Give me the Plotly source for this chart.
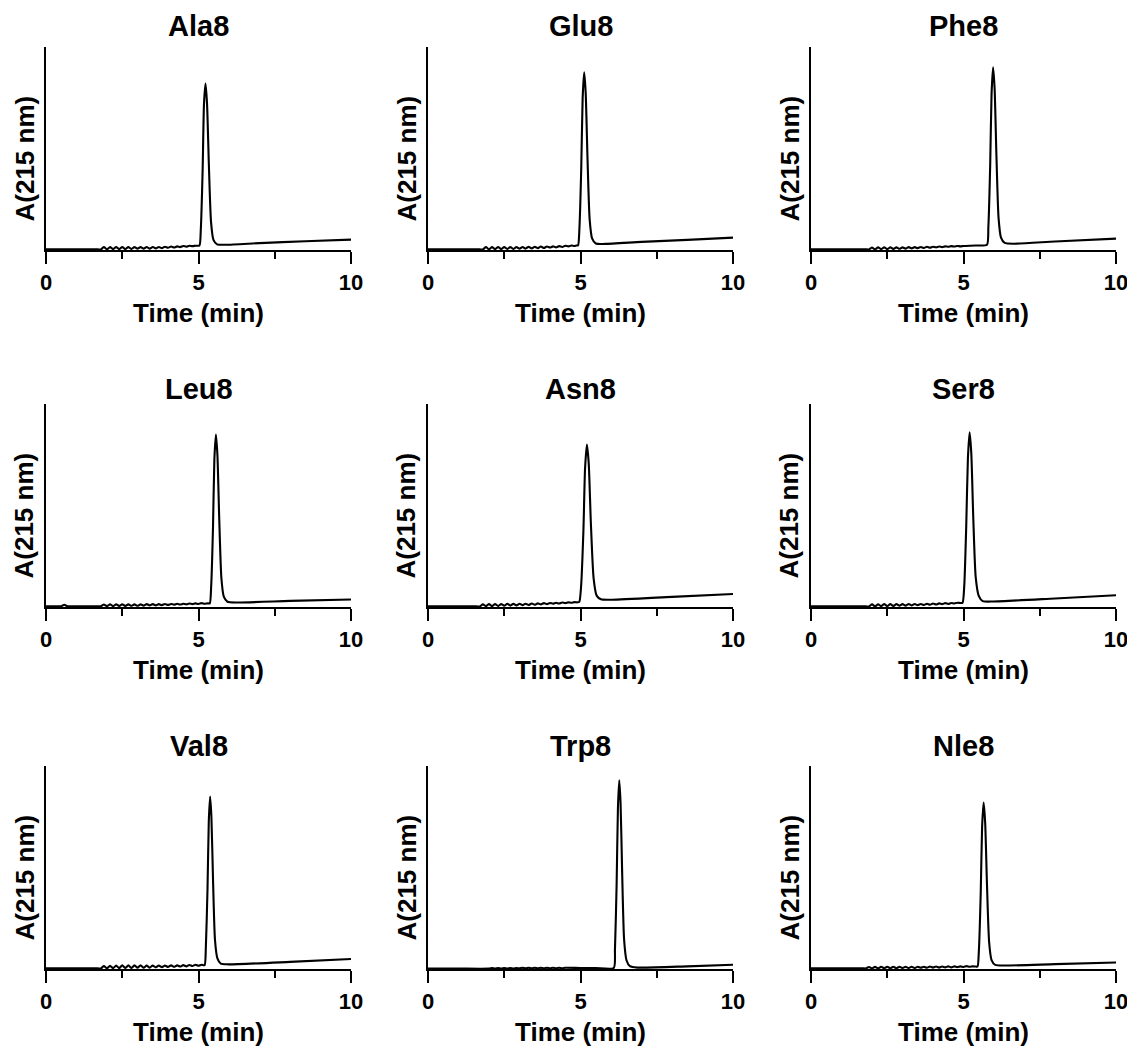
import plotly.graph_objects as go

# ---------------- data (time in min, absorbance in arbitrary units, axis top = 1) ----------------
PANEL_NAMES = ["Ala8", "Glu8", "Phe8", "Leu8", "Asn8", "Ser8", "Val8", "Trp8", "Nle8"]

ALA8 = [(0, 0.003), (1.0, 0.003), (1.7, 0.003),
        (1.8, 0.003), (1.9, 0.014), (2.0, 0.003), (2.1, 0.015), (2.2, 0.004), (2.3, 0.015), (2.4, 0.004),
        (2.5, 0.015), (2.6, 0.004), (2.7, 0.015), (2.8, 0.005), (2.9, 0.015), (3.0, 0.006), (3.1, 0.015),
        (3.2, 0.006), (3.3, 0.015), (3.4, 0.007), (3.5, 0.015), (3.6, 0.008), (3.7, 0.015), (3.8, 0.009),
        (3.9, 0.016), (4.0, 0.011), (4.1, 0.017), (4.2, 0.012), (4.3, 0.018), (4.4, 0.014), (4.5, 0.020),
        (4.6, 0.016), (4.7, 0.021), (4.8, 0.019), (4.9, 0.021),
        (5.03, 0.022), (5.075, 0.10), (5.135, 0.39), (5.18, 0.72), (5.23, 0.82), (5.28, 0.72), (5.34, 0.42),
        (5.41, 0.14), (5.49, 0.05), (5.61, 0.028), (5.91, 0.026), (7.0, 0.034), (8.5, 0.043), (10, 0.051)]

GLU8 = [(0, 0.003), (1.0, 0.003), (1.7, 0.003),
        (1.8, 0.003), (1.9, 0.014), (2.0, 0.003), (2.1, 0.014), (2.2, 0.004), (2.3, 0.015), (2.4, 0.004),
        (2.5, 0.015), (2.6, 0.005), (2.7, 0.015), (2.8, 0.005), (2.9, 0.015), (3.0, 0.006), (3.1, 0.015),
        (3.2, 0.007), (3.3, 0.016), (3.4, 0.008), (3.5, 0.016), (3.6, 0.009), (3.7, 0.017), (3.8, 0.010),
        (3.9, 0.017), (4.0, 0.012), (4.1, 0.018), (4.2, 0.013), (4.3, 0.019), (4.4, 0.015), (4.5, 0.021),
        (4.6, 0.018), (4.7, 0.022), (4.8, 0.020), (4.86, 0.022),
        (4.92, 0.023), (4.965, 0.108), (5.025, 0.406), (5.07, 0.747), (5.12, 0.875), (5.17, 0.773),
        (5.23, 0.449), (5.30, 0.151), (5.38, 0.057), (5.50, 0.032), (5.80, 0.030), (7.0, 0.040),
        (8.5, 0.050), (10, 0.061)]

PHE8 = [(0, 0.003), (1.0, 0.003), (1.8, 0.003),
        (1.9, 0.003), (2.0, 0.012), (2.1, 0.003), (2.2, 0.013), (2.3, 0.004), (2.4, 0.013), (2.5, 0.004),
        (2.6, 0.013), (2.7, 0.005), (2.8, 0.013), (2.9, 0.006), (3.0, 0.013), (3.1, 0.007), (3.2, 0.014),
        (3.3, 0.008), (3.4, 0.014), (3.5, 0.009), (3.6, 0.015), (3.7, 0.010), (3.8, 0.016), (3.9, 0.011),
        (4.0, 0.016), (4.1, 0.013), (4.2, 0.017), (4.3, 0.014), (4.4, 0.018), (4.5, 0.016), (4.6, 0.019),
        (4.7, 0.017), (4.8, 0.020), (4.9, 0.018), (5.0, 0.020),
        (5.4, 0.022), (5.77, 0.026), (5.815, 0.113), (5.875, 0.419), (5.92, 0.769), (5.97, 0.90),
        (6.02, 0.795), (6.08, 0.463), (6.15, 0.157), (6.23, 0.061), (6.35, 0.035), (6.65, 0.031),
        (8.0, 0.042), (10, 0.056)]

LEU8 = [(0, 0.004), (0.5, 0.004), (0.6, 0.011), (0.7, 0.004), (1.0, 0.004), (1.7, 0.004),
        (1.8, 0.004), (1.9, 0.012), (2.0, 0.004), (2.1, 0.013), (2.2, 0.004), (2.3, 0.013), (2.4, 0.005),
        (2.5, 0.013), (2.6, 0.005), (2.7, 0.013), (2.8, 0.006), (2.9, 0.013), (3.0, 0.006), (3.1, 0.013),
        (3.2, 0.007), (3.3, 0.014), (3.4, 0.008), (3.5, 0.014), (3.6, 0.008), (3.7, 0.014), (3.8, 0.009),
        (3.9, 0.015), (4.0, 0.010), (4.1, 0.015), (4.2, 0.011), (4.3, 0.016), (4.4, 0.012), (4.5, 0.016),
        (4.6, 0.013), (4.7, 0.017), (4.8, 0.014), (4.9, 0.018), (5.0, 0.015), (5.1, 0.019), (5.2, 0.016),
        (5.3, 0.018),
        (5.37, 0.018), (5.415, 0.101), (5.475, 0.392), (5.52, 0.725), (5.57, 0.85), (5.62, 0.750),
        (5.68, 0.434), (5.75, 0.143), (5.83, 0.051), (5.95, 0.026), (6.25, 0.022), (8.0, 0.030),
        (10, 0.037)]

ASN8 = [(0, 0.003), (1.0, 0.003), (1.6, 0.003),
        (1.7, 0.003), (1.8, 0.013), (1.9, 0.004), (2.0, 0.014), (2.1, 0.004), (2.2, 0.015), (2.3, 0.005),
        (2.4, 0.015), (2.5, 0.006), (2.6, 0.016), (2.7, 0.007), (2.8, 0.016), (2.9, 0.008), (3.0, 0.016),
        (3.1, 0.009), (3.2, 0.016), (3.3, 0.010), (3.4, 0.017), (3.5, 0.011), (3.6, 0.018), (3.7, 0.013),
        (3.8, 0.019), (3.9, 0.014), (4.0, 0.020), (4.1, 0.016), (4.2, 0.021), (4.3, 0.017), (4.4, 0.022),
        (4.5, 0.019), (4.6, 0.023), (4.7, 0.021), (4.8, 0.024), (4.9, 0.023),
        (4.96, 0.025), (5.02, 0.103), (5.095, 0.374), (5.15, 0.684), (5.21, 0.80), (5.27, 0.707),
        (5.34, 0.413), (5.43, 0.141), (5.53, 0.056), (5.67, 0.038), (6.04, 0.036), (8.0, 0.050),
        (10, 0.064)]

SER8 = [(0, 0.003), (1.0, 0.003), (1.8, 0.003),
        (1.9, 0.003), (2.0, 0.013), (2.1, 0.003), (2.2, 0.013), (2.3, 0.004), (2.4, 0.014), (2.5, 0.004),
        (2.6, 0.014), (2.7, 0.005), (2.8, 0.014), (2.9, 0.006), (3.0, 0.014), (3.1, 0.007), (3.2, 0.015),
        (3.3, 0.008), (3.4, 0.015), (3.5, 0.009), (3.6, 0.015), (3.7, 0.010), (3.8, 0.016), (3.9, 0.011),
        (4.0, 0.017), (4.1, 0.012), (4.2, 0.018), (4.3, 0.014), (4.4, 0.019), (4.5, 0.015), (4.6, 0.020),
        (4.7, 0.017), (4.8, 0.021), (4.9, 0.020),
        (4.97, 0.021), (5.025, 0.105), (5.09, 0.399), (5.145, 0.734), (5.20, 0.86), (5.255, 0.759),
        (5.32, 0.441), (5.40, 0.147), (5.50, 0.055), (5.63, 0.029), (5.97, 0.027), (8.0, 0.042),
        (10, 0.058)]

VAL8 = [(0, 0.003), (1.0, 0.003), (1.7, 0.003),
        (1.8, 0.003), (1.9, 0.014), (2.0, 0.003), (2.1, 0.016), (2.2, 0.004), (2.3, 0.017), (2.4, 0.004),
        (2.5, 0.018), (2.6, 0.005), (2.7, 0.018), (2.8, 0.005), (2.9, 0.018), (3.0, 0.006), (3.1, 0.018),
        (3.2, 0.006), (3.3, 0.017), (3.4, 0.007), (3.5, 0.017), (3.6, 0.008), (3.7, 0.017), (3.8, 0.009),
        (3.9, 0.017), (4.0, 0.010), (4.1, 0.018), (4.2, 0.011), (4.3, 0.018), (4.4, 0.012), (4.5, 0.019),
        (4.6, 0.013), (4.7, 0.020), (4.8, 0.015), (4.9, 0.021), (5.0, 0.016), (5.1, 0.021),
        (5.20, 0.019), (5.24, 0.102), (5.295, 0.393), (5.337, 0.725), (5.38, 0.85), (5.423, 0.750),
        (5.477, 0.435), (5.54, 0.144), (5.62, 0.052), (5.73, 0.026), (5.98, 0.023), (8.0, 0.035),
        (10, 0.049)]

TRP8 = [(0, 0.002), (1.0, 0.002), (2.0, 0.002), (2.1, 0.005), (2.2, 0.002), (2.3, 0.005), (2.4, 0.002),
        (2.5, 0.005), (2.6, 0.002), (2.7, 0.005), (2.8, 0.002), (2.9, 0.005), (3.0, 0.003), (3.1, 0.006),
        (3.2, 0.003), (3.3, 0.006), (3.4, 0.003), (3.5, 0.006), (3.6, 0.003), (3.7, 0.006), (3.8, 0.003),
        (3.9, 0.006), (4.0, 0.004), (4.1, 0.006), (4.2, 0.004), (4.3, 0.006), (4.4, 0.004), (4.5, 0.006),
        (5.0, 0.005), (5.5, 0.005),
        (6.09, 0.005), (6.13, 0.098), (6.185, 0.421), (6.227, 0.791), (6.27, 0.93), (6.313, 0.819),
        (6.367, 0.468), (6.43, 0.144), (6.51, 0.042), (6.62, 0.014), (6.87, 0.007), (8.5, 0.013),
        (10, 0.021)]

NLE8 = [(0, 0.003), (1.0, 0.003), (1.7, 0.003),
        (1.8, 0.003), (1.9, 0.010), (2.0, 0.003), (2.1, 0.011), (2.2, 0.003), (2.3, 0.011), (2.4, 0.004),
        (2.5, 0.011), (2.6, 0.004), (2.7, 0.011), (2.8, 0.004), (2.9, 0.011), (3.0, 0.005), (3.1, 0.011),
        (3.2, 0.005), (3.3, 0.011), (3.4, 0.005), (3.5, 0.011), (3.6, 0.006), (3.7, 0.011), (3.8, 0.006),
        (3.9, 0.012), (4.0, 0.007), (4.1, 0.012), (4.2, 0.007), (4.3, 0.012), (4.4, 0.008), (4.5, 0.013),
        (4.6, 0.008), (4.7, 0.013), (4.8, 0.009), (4.9, 0.013), (5.0, 0.010), (5.1, 0.014), (5.2, 0.011),
        (5.3, 0.013), (5.4, 0.012),
        (5.46, 0.012), (5.505, 0.093), (5.565, 0.376), (5.61, 0.699), (5.66, 0.82), (5.71, 0.723),
        (5.77, 0.416), (5.84, 0.133), (5.92, 0.044), (6.04, 0.020), (6.34, 0.017), (8.0, 0.024),
        (10, 0.032)]

TRACES = [ALA8, GLU8, PHE8, LEU8, ASN8, SER8, VAL8, TRP8, NLE8]

X_TICKS = [0, 5, 10]
X_MINOR_TICKS = [2.5, 7.5]
X_TITLE = "Time (min)"
Y_TITLE = "A(215 nm)"

# ---------------- layout geometry (pixels, page coordinates) ----------------
PAGE_OFFSET = 8          # default body margin of the html page
W, H = 1135 - PAGE_OFFSET, 1048 - PAGE_OFFSET
COL_LEFT = [46, 428, 811]
COL_RIGHT = [351, 733, 1116]
ROW_TOP = [47, 404, 766]
ROW_BOTTOM = [250, 607, 969]
TITLE_TOP = [8, 371, 728]


def px_x(p):
    return (p - PAGE_OFFSET) / W


def px_y(p):
    return 1 - (p - PAGE_OFFSET) / H


FONT = "Liberation Sans, Arial, Helvetica, sans-serif"

fig = go.Figure()
annotations = []
layout = dict(
    template="none",
    width=W, height=H, autosize=False,
    margin=dict(l=0, r=0, t=0, b=0, pad=0),
    paper_bgcolor="white", plot_bgcolor="white",
    showlegend=False,
    font=dict(family=FONT, color="black"),
)

for i, (name, data) in enumerate(zip(PANEL_NAMES, TRACES)):
    r, c = divmod(i, 3)
    k = "" if i == 0 else str(i + 1)
    t = [p[0] for p in data]
    a = [p[1] for p in data]
    fig.add_trace(go.Scatter(
        x=t, y=a, mode="lines",
        line=dict(color="black", width=2.1, shape="spline", smoothing=0.6),
        xaxis="x" + k, yaxis="y" + k, hoverinfo="skip",
    ))
    xd = [px_x(COL_LEFT[c]), px_x(COL_RIGHT[c])]
    yd = [px_y(ROW_BOTTOM[r]), px_y(ROW_TOP[r])]
    layout["xaxis" + k] = dict(
        domain=xd, anchor="y" + k, range=[0, 10], automargin=False,
        showline=True, linecolor="black", linewidth=2,
        showgrid=False, zeroline=False,
        ticks="outside", ticklen=12, tickwidth=2, tickcolor="black",
        tickvals=X_TICKS, ticktext=[str(v) for v in X_TICKS],
        tickfont=dict(family=FONT, size=22, color="black", weight="bold"),
        minor=dict(tickvals=X_MINOR_TICKS, ticks="outside", ticklen=7, tickwidth=2,
                   tickcolor="black", showgrid=False),
        fixedrange=True,
    )
    layout["yaxis" + k] = dict(
        domain=yd, anchor="x" + k, range=[0, 1], automargin=False,
        showline=True, linecolor="black", linewidth=2,
        showgrid=False, zeroline=False, showticklabels=False, ticks="",
        fixedrange=True,
    )
    cx = (COL_LEFT[c] + COL_RIGHT[c]) / 2
    annotations.append(dict(
        text="<b>%s</b>" % name, x=px_x(cx), y=px_y(TITLE_TOP[r]),
        xref="paper", yref="paper", xanchor="center", yanchor="top",
        showarrow=False, font=dict(family=FONT, size=29, color="black"),
    ))
    annotations.append(dict(
        text="<b>%s</b>" % X_TITLE, x=px_x(cx), y=px_y(ROW_BOTTOM[r] + 63),
        xref="paper", yref="paper", xanchor="center", yanchor="middle",
        showarrow=False, font=dict(family=FONT, size=26, color="black"),
    ))
    cy = (ROW_TOP[r] + ROW_BOTTOM[r]) / 2 + 10
    annotations.append(dict(
        text="<b>%s</b>" % Y_TITLE, x=px_x(COL_LEFT[c] - 22), y=px_y(cy),
        xref="paper", yref="paper", xanchor="center", yanchor="middle",
        textangle=-90, showarrow=False, font=dict(family=FONT, size=26, color="black"),
    ))

layout["annotations"] = annotations
fig.update_layout(**layout)
fig.write_html("out.html")
